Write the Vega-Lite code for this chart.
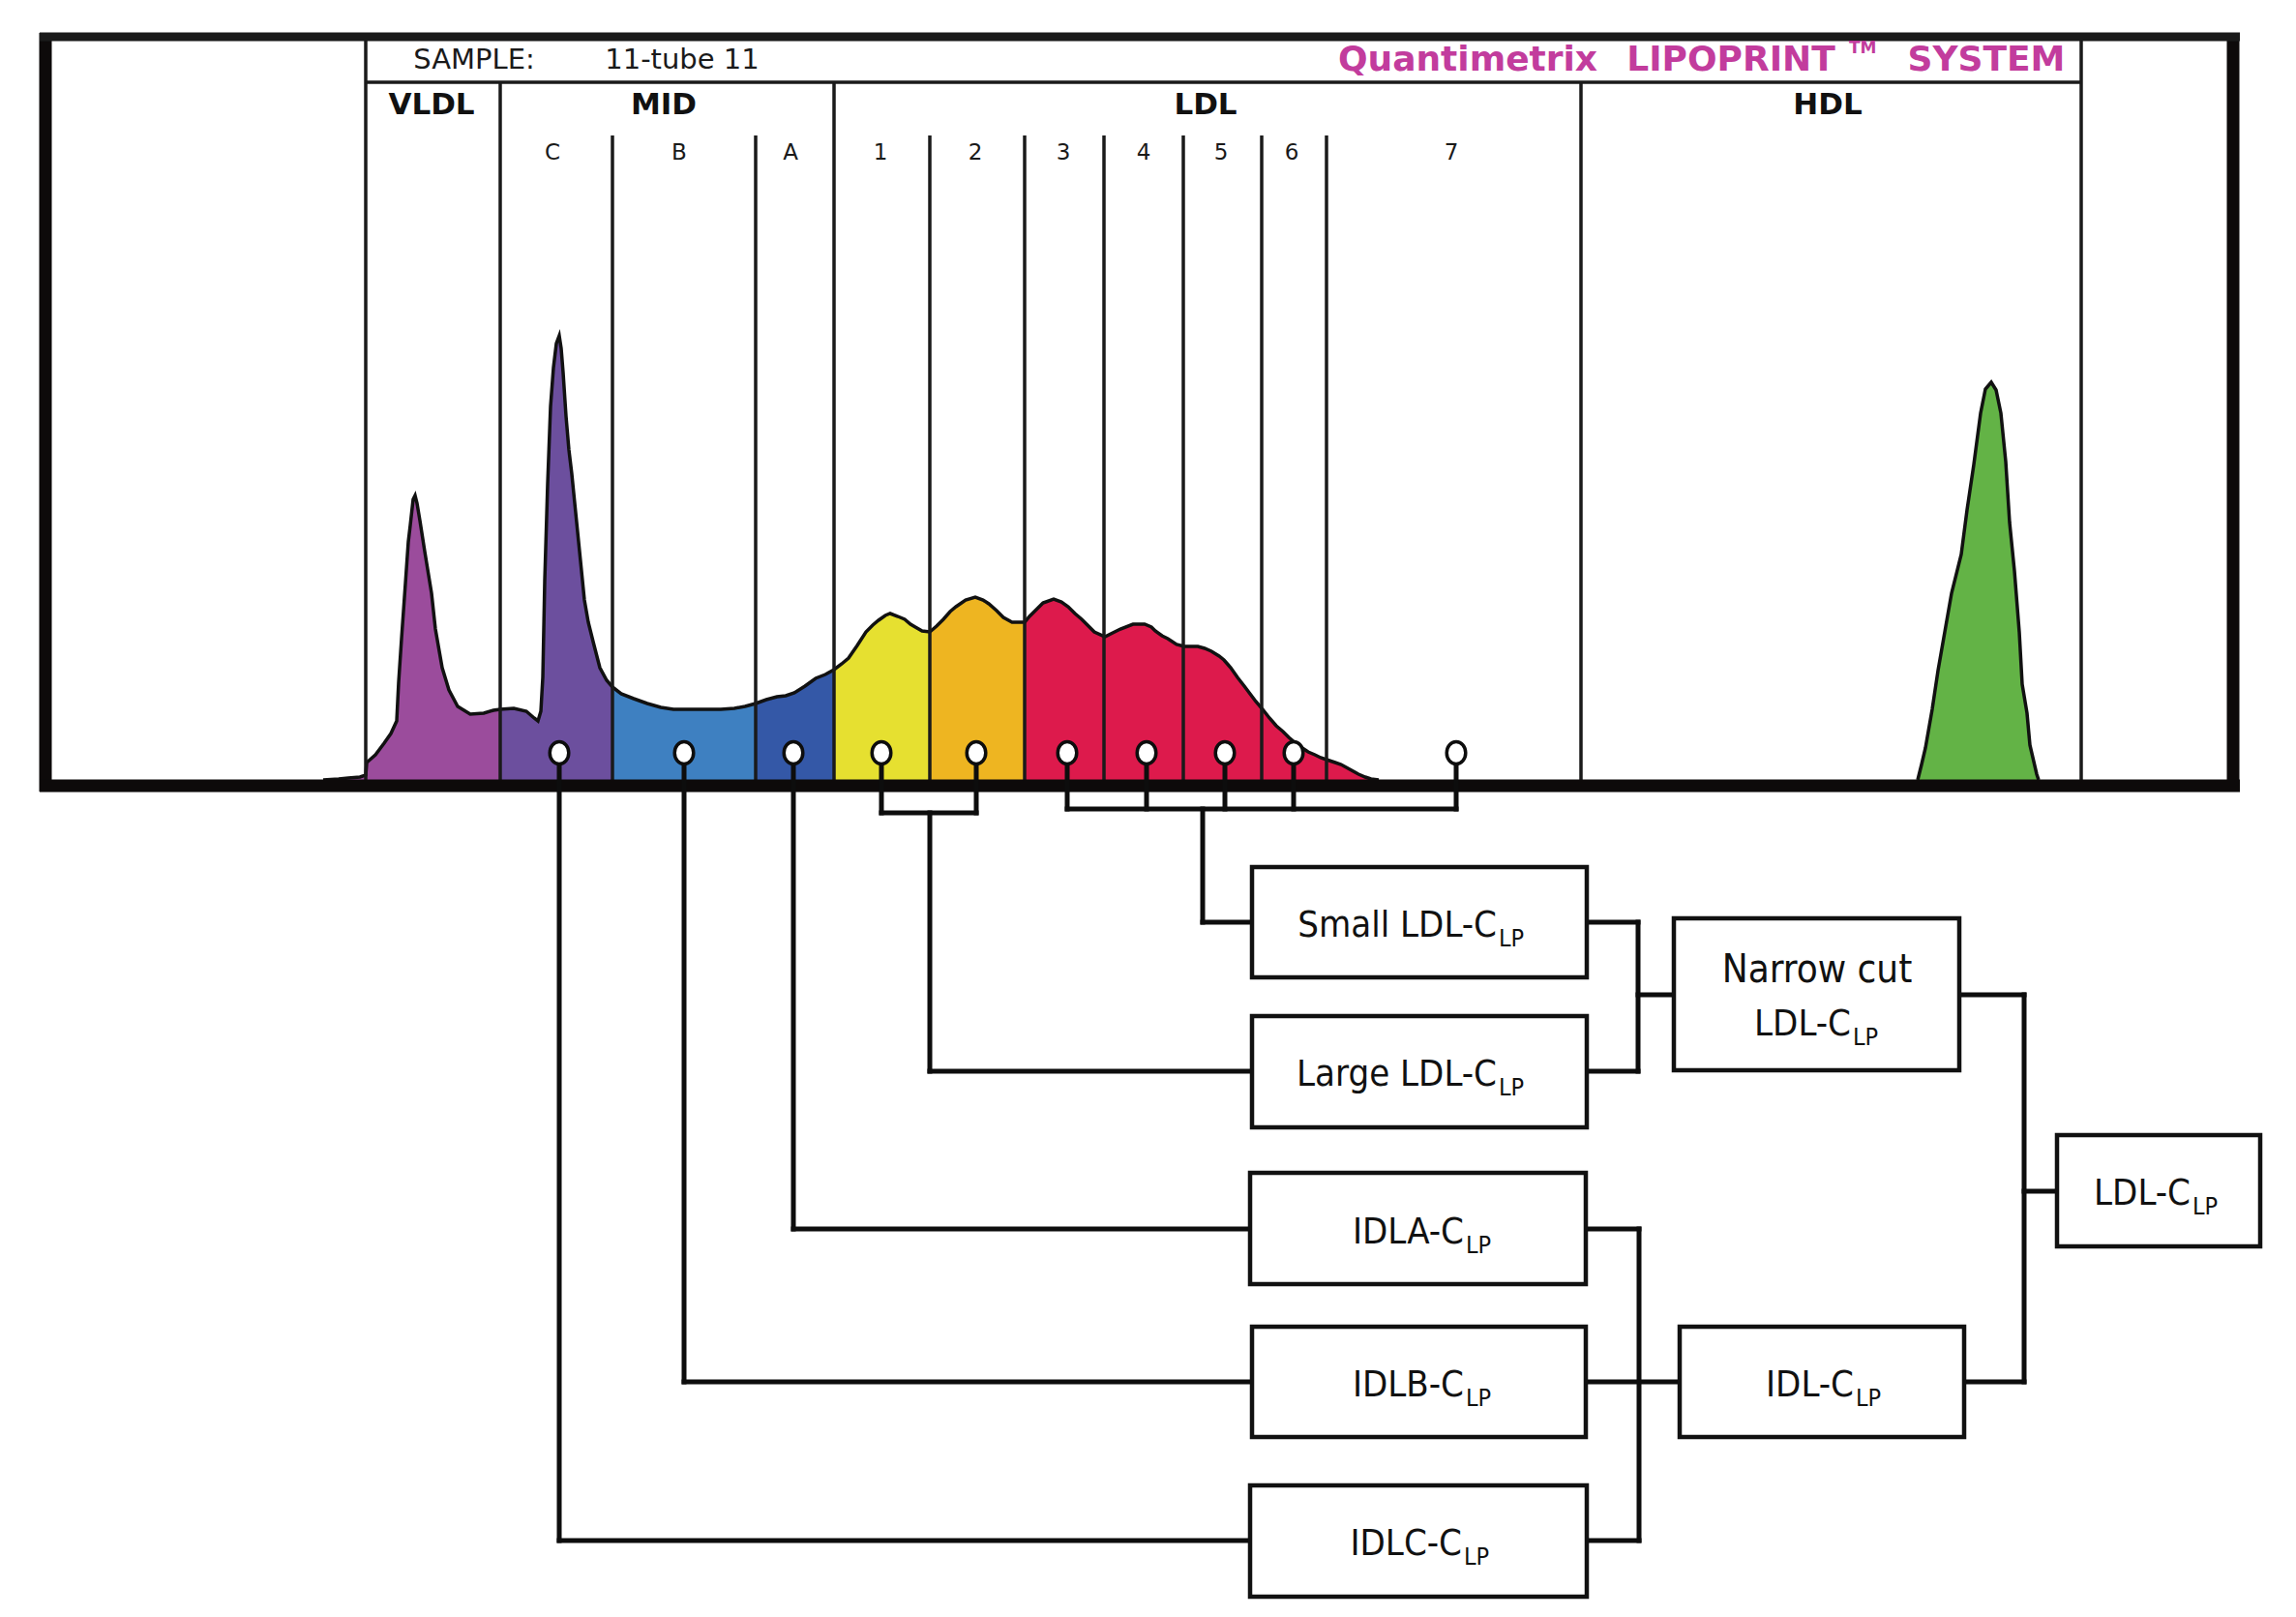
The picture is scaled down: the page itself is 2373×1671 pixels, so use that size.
{
  "$schema": "https://vega.github.io/schema/vega-lite/v6.json",
  "autosize": {"type": "fit", "contains": "padding"},
  "width": 2373,
  "height": 1671,
  "padding": 0,
  "background": "white",
  "config": {"view": {"stroke": null}},
  "datasets": {
    "curve": [
      {"x":334,"y":806,"band":"VLDL","grp":"main"},{"x":350,"y":805,"band":"VLDL","grp":"main"},{"x":360,"y":804,"band":"VLDL","grp":"main"},{"x":372,"y":803,"band":"VLDL","grp":"main"},{"x":378,"y":801,"band":"VLDL","grp":"main"},{"x":379,"y":788,"band":"VLDL","grp":"main"},{"x":388,"y":780,"band":"VLDL","grp":"main"},{"x":397,"y":768,"band":"VLDL","grp":"main"},{"x":404,"y":758,"band":"VLDL","grp":"main"},{"x":410,"y":745,"band":"VLDL","grp":"main"},{"x":412,"y":705,"band":"VLDL","grp":"main"},{"x":415,"y":660,"band":"VLDL","grp":"main"},{"x":419,"y":603,"band":"VLDL","grp":"main"},{"x":422,"y":560,"band":"VLDL","grp":"main"},{"x":424,"y":543,"band":"VLDL","grp":"main"},{"x":427,"y":516,"band":"VLDL","grp":"main"},{"x":429,"y":512,"band":"VLDL","grp":"main"},{"x":431,"y":520,"band":"VLDL","grp":"main"},{"x":434,"y":538,"band":"VLDL","grp":"main"},{"x":439,"y":570,"band":"VLDL","grp":"main"},{"x":446,"y":613,"band":"VLDL","grp":"main"},{"x":450,"y":650,"band":"VLDL","grp":"main"},{"x":457,"y":690,"band":"VLDL","grp":"main"},{"x":464,"y":713,"band":"VLDL","grp":"main"},{"x":473,"y":730,"band":"VLDL","grp":"main"},{"x":486,"y":738,"band":"VLDL","grp":"main"},{"x":500,"y":737,"band":"VLDL","grp":"main"},{"x":510,"y":734,"band":"VLDL","grp":"main"},{"x":517,"y":733,"band":"VLDL","grp":"main"},
      {"x":517,"y":733,"band":"C","grp":"main"},{"x":531,"y":732,"band":"C","grp":"main"},{"x":544,"y":735,"band":"C","grp":"main"},{"x":552,"y":742,"band":"C","grp":"main"},{"x":556,"y":745,"band":"C","grp":"main"},{"x":559,"y":735,"band":"C","grp":"main"},{"x":561,"y":700,"band":"C","grp":"main"},{"x":563,"y":600,"band":"C","grp":"main"},{"x":566,"y":500,"band":"C","grp":"main"},{"x":569,"y":420,"band":"C","grp":"main"},{"x":572,"y":380,"band":"C","grp":"main"},{"x":575,"y":355,"band":"C","grp":"main"},{"x":578,"y":347,"band":"C","grp":"main"},{"x":580,"y":360,"band":"C","grp":"main"},{"x":582,"y":385,"band":"C","grp":"main"},{"x":585,"y":430,"band":"C","grp":"main"},{"x":588,"y":465,"band":"C","grp":"main"},{"x":591,"y":490,"band":"C","grp":"main"},{"x":595,"y":530,"band":"C","grp":"main"},{"x":598,"y":560,"band":"C","grp":"main"},{"x":601,"y":590,"band":"C","grp":"main"},{"x":604,"y":620,"band":"C","grp":"main"},{"x":608,"y":643,"band":"C","grp":"main"},{"x":613,"y":663,"band":"C","grp":"main"},{"x":620,"y":690,"band":"C","grp":"main"},{"x":627,"y":703,"band":"C","grp":"main"},{"x":633,"y":710,"band":"C","grp":"main"},
      {"x":633,"y":710,"band":"B","grp":"main"},{"x":642,"y":717,"band":"B","grp":"main"},{"x":655,"y":722,"band":"B","grp":"main"},{"x":669,"y":727,"band":"B","grp":"main"},{"x":683,"y":731,"band":"B","grp":"main"},{"x":696,"y":733,"band":"B","grp":"main"},{"x":720,"y":733,"band":"B","grp":"main"},{"x":745,"y":733,"band":"B","grp":"main"},{"x":759,"y":732,"band":"B","grp":"main"},{"x":770,"y":730,"band":"B","grp":"main"},{"x":781,"y":727,"band":"B","grp":"main"},
      {"x":781,"y":727,"band":"A","grp":"main"},{"x":792,"y":723,"band":"A","grp":"main"},{"x":803,"y":720,"band":"A","grp":"main"},{"x":812,"y":719,"band":"A","grp":"main"},{"x":821,"y":716,"band":"A","grp":"main"},{"x":832,"y":709,"band":"A","grp":"main"},{"x":843,"y":701,"band":"A","grp":"main"},{"x":853,"y":697,"band":"A","grp":"main"},{"x":862,"y":692,"band":"A","grp":"main"},
      {"x":862,"y":692,"band":"L1","grp":"main"},{"x":870,"y":686,"band":"L1","grp":"main"},{"x":877,"y":680,"band":"L1","grp":"main"},{"x":886,"y":667,"band":"L1","grp":"main"},{"x":895,"y":653,"band":"L1","grp":"main"},{"x":902,"y":646,"band":"L1","grp":"main"},{"x":908,"y":641,"band":"L1","grp":"main"},{"x":915,"y":636,"band":"L1","grp":"main"},{"x":920,"y":634,"band":"L1","grp":"main"},{"x":928,"y":637,"band":"L1","grp":"main"},{"x":935,"y":640,"band":"L1","grp":"main"},{"x":941,"y":645,"band":"L1","grp":"main"},{"x":946,"y":648,"band":"L1","grp":"main"},{"x":953,"y":652,"band":"L1","grp":"main"},{"x":961,"y":653,"band":"L1","grp":"main"},
      {"x":961,"y":653,"band":"L2","grp":"main"},{"x":968,"y":647,"band":"L2","grp":"main"},{"x":975,"y":640,"band":"L2","grp":"main"},{"x":982,"y":632,"band":"L2","grp":"main"},{"x":988,"y":627,"band":"L2","grp":"main"},{"x":998,"y":620,"band":"L2","grp":"main"},{"x":1008,"y":617,"band":"L2","grp":"main"},{"x":1016,"y":620,"band":"L2","grp":"main"},{"x":1022,"y":624,"band":"L2","grp":"main"},{"x":1030,"y":631,"band":"L2","grp":"main"},{"x":1037,"y":638,"band":"L2","grp":"main"},{"x":1046,"y":643,"band":"L2","grp":"main"},{"x":1059,"y":643,"band":"L2","grp":"main"},
      {"x":1059,"y":643,"band":"L3","grp":"main"},{"x":1064,"y":637,"band":"L3","grp":"main"},{"x":1071,"y":630,"band":"L3","grp":"main"},{"x":1078,"y":623,"band":"L3","grp":"main"},{"x":1089,"y":619,"band":"L3","grp":"main"},{"x":1097,"y":622,"band":"L3","grp":"main"},{"x":1104,"y":627,"band":"L3","grp":"main"},{"x":1111,"y":634,"band":"L3","grp":"main"},{"x":1118,"y":640,"band":"L3","grp":"main"},{"x":1125,"y":647,"band":"L3","grp":"main"},{"x":1131,"y":653,"band":"L3","grp":"main"},{"x":1142,"y":658,"band":"L3","grp":"main"},{"x":1150,"y":654,"band":"L3","grp":"main"},{"x":1158,"y":650,"band":"L3","grp":"main"},{"x":1171,"y":645,"band":"L3","grp":"main"},{"x":1183,"y":645,"band":"L3","grp":"main"},{"x":1190,"y":648,"band":"L3","grp":"main"},{"x":1194,"y":652,"band":"L3","grp":"main"},{"x":1201,"y":657,"band":"L3","grp":"main"},{"x":1207,"y":660,"band":"L3","grp":"main"},{"x":1216,"y":666,"band":"L3","grp":"main"},{"x":1224,"y":668,"band":"L3","grp":"main"},{"x":1238,"y":668,"band":"L3","grp":"main"},{"x":1245,"y":670,"band":"L3","grp":"main"},{"x":1252,"y":673,"band":"L3","grp":"main"},{"x":1260,"y":678,"band":"L3","grp":"main"},{"x":1265,"y":682,"band":"L3","grp":"main"},{"x":1272,"y":690,"band":"L3","grp":"main"},{"x":1279,"y":700,"band":"L3","grp":"main"},{"x":1286,"y":709,"band":"L3","grp":"main"},{"x":1292,"y":717,"band":"L3","grp":"main"},{"x":1298,"y":725,"band":"L3","grp":"main"},{"x":1305,"y":733,"band":"L3","grp":"main"},{"x":1312,"y":742,"band":"L3","grp":"main"},{"x":1319,"y":750,"band":"L3","grp":"main"},{"x":1326,"y":756,"band":"L3","grp":"main"},{"x":1332,"y":762,"band":"L3","grp":"main"},{"x":1339,"y":768,"band":"L3","grp":"main"},{"x":1346,"y":773,"band":"L3","grp":"main"},{"x":1352,"y":777,"band":"L3","grp":"main"},{"x":1359,"y":780,"band":"L3","grp":"main"},{"x":1365,"y":783,"band":"L3","grp":"main"},{"x":1371,"y":785,"band":"L3","grp":"main"},{"x":1380,"y":788,"band":"L3","grp":"main"},{"x":1386,"y":790,"band":"L3","grp":"main"},{"x":1395,"y":795,"band":"L3","grp":"main"},{"x":1404,"y":800,"band":"L3","grp":"main"},{"x":1411,"y":803,"band":"L3","grp":"main"},{"x":1417,"y":805,"band":"L3","grp":"main"},{"x":1425,"y":806,"band":"L3","grp":"main"},
      {"x":1982,"y":806,"band":"HDL","grp":"hdl"},{"x":1986,"y":790,"band":"HDL","grp":"hdl"},{"x":1990,"y":773,"band":"HDL","grp":"hdl"},{"x":1997,"y":733,"band":"HDL","grp":"hdl"},{"x":2003,"y":693,"band":"HDL","grp":"hdl"},{"x":2010,"y":653,"band":"HDL","grp":"hdl"},{"x":2017,"y":613,"band":"HDL","grp":"hdl"},{"x":2027,"y":573,"band":"HDL","grp":"hdl"},{"x":2033,"y":527,"band":"HDL","grp":"hdl"},{"x":2040,"y":480,"band":"HDL","grp":"hdl"},{"x":2047,"y":427,"band":"HDL","grp":"hdl"},{"x":2052,"y":402,"band":"HDL","grp":"hdl"},{"x":2058,"y":395,"band":"HDL","grp":"hdl"},{"x":2063,"y":403,"band":"HDL","grp":"hdl"},{"x":2068,"y":427,"band":"HDL","grp":"hdl"},{"x":2073,"y":477,"band":"HDL","grp":"hdl"},{"x":2077,"y":540,"band":"HDL","grp":"hdl"},{"x":2082,"y":590,"band":"HDL","grp":"hdl"},{"x":2087,"y":653,"band":"HDL","grp":"hdl"},{"x":2090,"y":707,"band":"HDL","grp":"hdl"},{"x":2095,"y":737,"band":"HDL","grp":"hdl"},{"x":2098,"y":770,"band":"HDL","grp":"hdl"},{"x":2105,"y":800,"band":"HDL","grp":"hdl"},{"x":2107,"y":806,"band":"HDL","grp":"hdl"}
    ],
    "segments": [
      {"x":378,"y":42,"x2":378,"y2":806,"kind":"chart"},
      {"x":2151,"y":42,"x2":2151,"y2":806,"kind":"chart"},
      {"x":517,"y":85,"x2":517,"y2":806,"kind":"chart"},
      {"x":862,"y":85,"x2":862,"y2":806,"kind":"chart"},
      {"x":1634,"y":85,"x2":1634,"y2":806,"kind":"chart"},
      {"x":633,"y":140,"x2":633,"y2":806,"kind":"chart"},
      {"x":781,"y":140,"x2":781,"y2":806,"kind":"chart"},
      {"x":961,"y":140,"x2":961,"y2":806,"kind":"chart"},
      {"x":1059,"y":140,"x2":1059,"y2":806,"kind":"chart"},
      {"x":1141,"y":140,"x2":1141,"y2":806,"kind":"chart"},
      {"x":1223,"y":140,"x2":1223,"y2":806,"kind":"chart"},
      {"x":1304,"y":140,"x2":1304,"y2":806,"kind":"chart"},
      {"x":1371,"y":140,"x2":1371,"y2":806,"kind":"chart"},
      {"x":378,"y":85,"x2":2151,"y2":85,"kind":"chart"},
      {"x":41,"y":38,"x2":2315,"y2":38,"kind":"frameTop"},
      {"x":47,"y":34,"x2":47,"y2":818,"kind":"frame"},
      {"x":2308,"y":34,"x2":2308,"y2":818,"kind":"frame"},
      {"x":41,"y":812,"x2":2315,"y2":812,"kind":"frame"},
      {"x":578,"y":778,"x2":578,"y2":1592,"kind":"conn"},
      {"x":707,"y":778,"x2":707,"y2":1428,"kind":"conn"},
      {"x":820,"y":778,"x2":820,"y2":1270,"kind":"conn"},
      {"x":911,"y":778,"x2":911,"y2":840,"kind":"conn"},
      {"x":1009,"y":778,"x2":1009,"y2":840,"kind":"conn"},
      {"x":1103,"y":778,"x2":1103,"y2":836,"kind":"conn"},
      {"x":1185,"y":778,"x2":1185,"y2":836,"kind":"conn"},
      {"x":1266,"y":778,"x2":1266,"y2":836,"kind":"conn"},
      {"x":1337,"y":778,"x2":1337,"y2":836,"kind":"conn"},
      {"x":1505,"y":778,"x2":1505,"y2":836,"kind":"conn"},
      {"x":911,"y":840,"x2":1009,"y2":840,"kind":"conn"},
      {"x":1103,"y":836,"x2":1505,"y2":836,"kind":"conn"},
      {"x":961,"y":840,"x2":961,"y2":1107,"kind":"conn"},
      {"x":961,"y":1107,"x2":1294,"y2":1107,"kind":"conn"},
      {"x":1243,"y":836,"x2":1243,"y2":953,"kind":"conn"},
      {"x":1243,"y":953,"x2":1294,"y2":953,"kind":"conn"},
      {"x":578,"y":1592,"x2":1292,"y2":1592,"kind":"conn"},
      {"x":707,"y":1428,"x2":1294,"y2":1428,"kind":"conn"},
      {"x":820,"y":1270,"x2":1292,"y2":1270,"kind":"conn"},
      {"x":1640,"y":953,"x2":1693,"y2":953,"kind":"conn"},
      {"x":1640,"y":1107,"x2":1693,"y2":1107,"kind":"conn"},
      {"x":1693,"y":953,"x2":1693,"y2":1107,"kind":"conn"},
      {"x":1693,"y":1028,"x2":1730,"y2":1028,"kind":"conn"},
      {"x":2025,"y":1028,"x2":2092,"y2":1028,"kind":"conn"},
      {"x":2030,"y":1428,"x2":2092,"y2":1428,"kind":"conn"},
      {"x":2092,"y":1028,"x2":2092,"y2":1428,"kind":"conn"},
      {"x":2092,"y":1231,"x2":2126,"y2":1231,"kind":"conn"},
      {"x":1639,"y":1270,"x2":1694,"y2":1270,"kind":"conn"},
      {"x":1640,"y":1592,"x2":1694,"y2":1592,"kind":"conn"},
      {"x":1694,"y":1270,"x2":1694,"y2":1592,"kind":"conn"},
      {"x":1639,"y":1428,"x2":1736,"y2":1428,"kind":"conn"}
    ],
    "boxes": [
      {"x":1294,"x2":1640,"y":896,"y2":1010,"name":"Small LDL"},
      {"x":1294,"x2":1640,"y":1050,"y2":1165,"name":"Large LDL"},
      {"x":1292,"x2":1639,"y":1212,"y2":1327,"name":"IDLA"},
      {"x":1294,"x2":1639,"y":1371,"y2":1485,"name":"IDLB"},
      {"x":1292,"x2":1640,"y":1535,"y2":1650,"name":"IDLC"},
      {"x":1730,"x2":2025,"y":949,"y2":1106,"name":"Narrow cut"},
      {"x":1736,"x2":2030,"y":1371,"y2":1485,"name":"IDL"},
      {"x":2126,"x2":2336,"y":1173,"y2":1288,"name":"LDL"}
    ],
    "markers": [
      {"x":578,"y":778,"fraction":"C"},{"x":707,"y":778,"fraction":"B"},{"x":820,"y":778,"fraction":"A"},
      {"x":911,"y":778,"fraction":"1"},{"x":1009,"y":778,"fraction":"2"},{"x":1103,"y":778,"fraction":"3"},
      {"x":1185,"y":778,"fraction":"4"},{"x":1266,"y":778,"fraction":"5"},{"x":1337,"y":778,"fraction":"6"},
      {"x":1505,"y":778,"fraction":"7"}
    ],
    "texts": [
      {"x":490,"y":62,"label":"SAMPLE:","kind":"hdr"},
      {"x":705,"y":62,"label":"11-tube 11","kind":"hdr"},
      {"x":1517,"y":62,"label":"Quantimetrix","kind":"brand"},
      {"x":1789,"y":62,"label":"LIPOPRINT","kind":"brand"},
      {"x":1911,"y":50,"label":"TM","kind":"tm"},
      {"x":2053,"y":62,"label":"SYSTEM","kind":"brand"},
      {"x":446,"y":109,"label":"VLDL","kind":"cat"},
      {"x":686,"y":109,"label":"MID","kind":"cat"},
      {"x":1246,"y":109,"label":"LDL","kind":"cat"},
      {"x":1889,"y":109,"label":"HDL","kind":"cat"},
      {"x":571,"y":158,"label":"C","kind":"sub"},
      {"x":702,"y":158,"label":"B","kind":"sub"},
      {"x":817,"y":158,"label":"A","kind":"sub"},
      {"x":910,"y":158,"label":"1","kind":"sub"},
      {"x":1008,"y":158,"label":"2","kind":"sub"},
      {"x":1099,"y":158,"label":"3","kind":"sub"},
      {"x":1182,"y":158,"label":"4","kind":"sub"},
      {"x":1262,"y":158,"label":"5","kind":"sub"},
      {"x":1335,"y":158,"label":"6","kind":"sub"},
      {"x":1500,"y":158,"label":"7","kind":"sub"},
      {"x":1547,"y":968,"label":"Small LDL-C","kind":"box"},
      {"x":1549,"y":978,"label":"LP","kind":"lp"},
      {"x":1547,"y":1122,"label":"Large LDL-C","kind":"box"},
      {"x":1549,"y":1132,"label":"LP","kind":"lp"},
      {"x":1513,"y":1285,"label":"IDLA-C","kind":"box"},
      {"x":1515,"y":1295,"label":"LP","kind":"lp"},
      {"x":1513,"y":1443,"label":"IDLB-C","kind":"box"},
      {"x":1515,"y":1453,"label":"LP","kind":"lp"},
      {"x":1511,"y":1607,"label":"IDLC-C","kind":"box"},
      {"x":1513,"y":1617,"label":"LP","kind":"lp"},
      {"x":1878,"y":1015,"label":"Narrow cut","kind":"boxc"},
      {"x":1913,"y":1070,"label":"LDL-C","kind":"box"},
      {"x":1915,"y":1080,"label":"LP","kind":"lp"},
      {"x":1916,"y":1443,"label":"IDL-C","kind":"box"},
      {"x":1918,"y":1453,"label":"LP","kind":"lp"},
      {"x":2264,"y":1245,"label":"LDL-C","kind":"box"},
      {"x":2266,"y":1255,"label":"LP","kind":"lp"}
    ]
  },
  "encoding": {
    "x": {"field": "x", "type": "quantitative", "scale": {"domain": [0, 2373], "nice": false, "zero": false}, "axis": null},
    "y": {"field": "y", "type": "quantitative", "scale": {"domain": [0, 1671], "nice": false, "zero": false, "reverse": true}, "axis": null}
  },
  "layer": [
    {
      "data": {"name": "curve"},
      "mark": {"type": "area", "opacity": 1},
      "encoding": {
        "y": {"field": "y", "type": "quantitative", "stack": null},
        "y2": {"datum": 806},
        "color": {"field": "band", "type": "nominal", "legend": null,
          "scale": {"domain": ["VLDL","C","B","A","L1","L2","L3","HDL"],
                    "range": ["#9b4c9c","#6c4f9e","#3e80c1","#3458a7","#e6e030","#eeb521","#dd1a4c","#63b346"]}}
      }
    },
    {
      "data": {"name": "curve"},
      "mark": {"type": "line", "color": "#111111", "strokeWidth": 3.5, "interpolate": "linear"},
      "encoding": {"detail": {"field": "grp"}}
    },
    {
      "data": {"name": "segments"},
      "transform": [{"filter": "datum.kind === 'chart'"}],
      "mark": {"type": "rule", "color": "#1a1a1a", "strokeWidth": 3.5},
      "encoding": {"x2": {"field": "x2"}, "y2": {"field": "y2"}}
    },
    {
      "data": {"name": "segments"},
      "transform": [{"filter": "datum.kind === 'frame'"}],
      "mark": {"type": "rule", "color": "#0d0a0a", "strokeWidth": 13},
      "encoding": {"x2": {"field": "x2"}, "y2": {"field": "y2"}}
    },
    {
      "data": {"name": "segments"},
      "transform": [{"filter": "datum.kind === 'frameTop'"}],
      "mark": {"type": "rule", "color": "#1a1a1a", "strokeWidth": 9},
      "encoding": {"x2": {"field": "x2"}, "y2": {"field": "y2"}}
    },
    {
      "data": {"name": "segments"},
      "transform": [{"filter": "datum.kind === 'conn'"}],
      "mark": {"type": "rule", "color": "#0d0d0d", "strokeWidth": 5, "strokeCap": "square"},
      "encoding": {"x2": {"field": "x2"}, "y2": {"field": "y2"}}
    },
    {
      "data": {"name": "boxes"},
      "mark": {"type": "rect", "fill": "white", "stroke": "#111111", "strokeWidth": 4.5},
      "encoding": {"x2": {"field": "x2"}, "y2": {"field": "y2"}}
    },
    {
      "data": {"name": "markers"},
      "mark": {"type": "point", "filled": false, "fill": "white", "fillOpacity": 1, "stroke": "#0d0d0d", "strokeWidth": 3.5, "opacity": 1, "size": 530,
               "shape": "M0,-1C0.48,-1 0.85,-0.55 0.85,0C0.85,0.55 0.48,1 0,1C-0.48,1 -0.85,0.55 -0.85,0C-0.85,-0.55 -0.48,-1 0,-1Z"}
    },
    {
      "data": {"name": "texts"},
      "transform": [{"filter": "datum.kind === 'hdr'"}],
      "mark": {"type": "text", "align": "center", "baseline": "middle", "font": "DejaVu Sans", "fontSize": 29, "color": "#1a1a1a"},
      "encoding": {"text": {"field": "label"}}
    },
    {
      "data": {"name": "texts"},
      "transform": [{"filter": "datum.kind === 'brand'"}],
      "mark": {"type": "text", "align": "center", "baseline": "middle", "font": "DejaVu Sans", "fontWeight": "bold", "fontSize": 36, "color": "#c23c9d"},
      "encoding": {"text": {"field": "label"}}
    },
    {
      "data": {"name": "texts"},
      "transform": [{"filter": "datum.kind === 'tm'"}],
      "mark": {"type": "text", "align": "left", "baseline": "middle", "font": "DejaVu Sans", "fontWeight": "bold", "fontSize": 17, "color": "#c23c9d"},
      "encoding": {"text": {"field": "label"}}
    },
    {
      "data": {"name": "texts"},
      "transform": [{"filter": "datum.kind === 'cat'"}],
      "mark": {"type": "text", "align": "center", "baseline": "middle", "font": "DejaVu Sans", "fontWeight": "bold", "fontSize": 31, "color": "#111111"},
      "encoding": {"text": {"field": "label"}}
    },
    {
      "data": {"name": "texts"},
      "transform": [{"filter": "datum.kind === 'sub'"}],
      "mark": {"type": "text", "align": "center", "baseline": "middle", "font": "DejaVu Sans", "fontSize": 23, "color": "#1a1a1a"},
      "encoding": {"text": {"field": "label"}}
    },
    {
      "data": {"name": "texts"},
      "transform": [{"filter": "datum.kind === 'box'"}],
      "mark": {"type": "text", "align": "right", "baseline": "alphabetic", "font": "DejaVu Sans Condensed, sans-serif", "fontSize": 38, "color": "#111111"},
      "encoding": {"text": {"field": "label"}}
    },
    {
      "data": {"name": "texts"},
      "transform": [{"filter": "datum.kind === 'boxc'"}],
      "mark": {"type": "text", "align": "center", "baseline": "alphabetic", "font": "DejaVu Sans Condensed, sans-serif", "fontSize": 40, "color": "#111111"},
      "encoding": {"text": {"field": "label"}}
    },
    {
      "data": {"name": "texts"},
      "transform": [{"filter": "datum.kind === 'lp'"}],
      "mark": {"type": "text", "align": "left", "baseline": "alphabetic", "font": "DejaVu Sans Condensed, sans-serif", "fontSize": 25, "color": "#111111"},
      "encoding": {"text": {"field": "label"}}
    }
  ]
}
